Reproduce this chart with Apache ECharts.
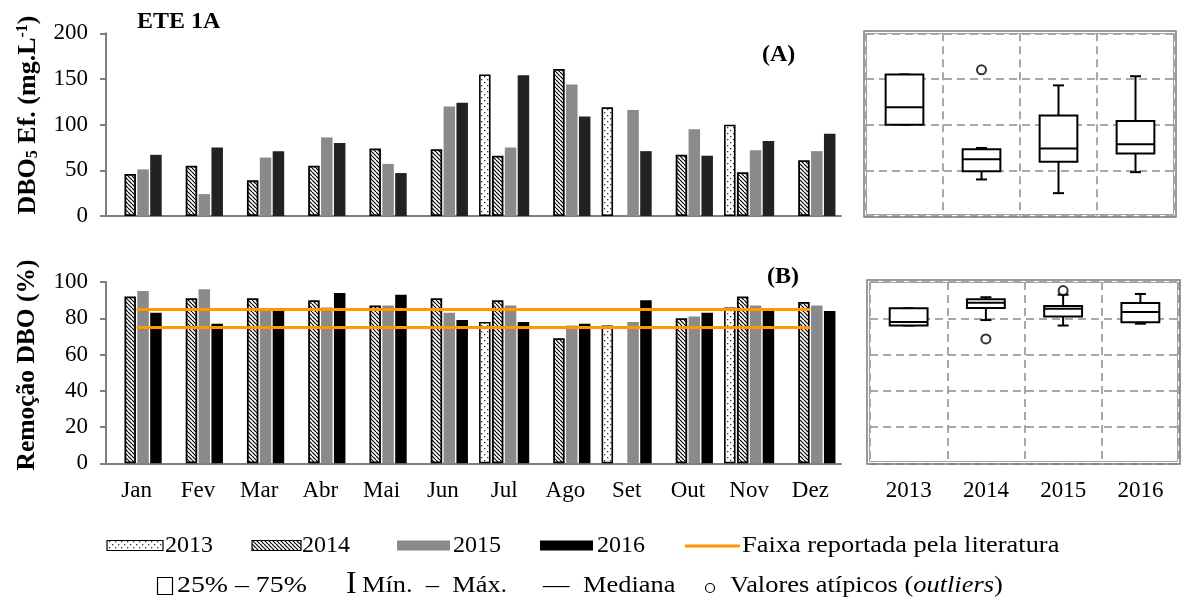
<!DOCTYPE html>
<html>
<head>
<meta charset="utf-8">
<script src="https://cdn.jsdelivr.net/npm/echarts@6/dist/echarts.min.js"></script>
<style>
  html, body { margin: 0; padding: 0; background: #fff; }
  #chart { width: 1181px; height: 601px; }
</style>
</head>
<body>
<div id="chart"></div>
<script>
// Months and years
const months = ['Jan', 'Fev', 'Mar', 'Abr', 'Mai', 'Jun', 'Jul', 'Ago', 'Set', 'Out', 'Nov', 'Dez'];
const years = ['2013', '2014', '2015', '2016'];

// (A) DBO5 efluente, mg/L
const dbo2013 = [null, null, null, null, null, null, 155, null, 119, null, 100, null];
const dbo2014 = [46, 55, 39, 55, 74, 73, 66, 161, null, 67, 48, 61];
const dbo2015 = [51, 24, 64, 86, 57, 120, 75, 144, 116, 95, 72, 71];
const dbo2016 = [67, 75, 71, 80, 47, 124, 154, 109, 71, 66, 82, 90];

// (B) Remoção de DBO, %
const rem2013 = [null, null, null, null, null, null, 78, null, 76, null, 86, null];
const rem2014 = [92, 91, 91, 90, 87, 91, 90, 69, null, 80, 92, 89];
const rem2015 = [95, 96, 85, 86, 87, 83, 87, 76, 78, 81, 87, 87];
const rem2016 = [83, 77, 84, 94, 93, 79, 78, 77, 90, 83, 85, 84];

// Faixa de remoção reportada pela literatura (%)
const faixaLiteratura = [75, 85];

// Box plots per year: [min, Q1, mediana, Q3, max]
const boxDbo2013 = [100, 100, 119, 155, 155];
const boxDbo2014 = [40, 49, 62, 73, 74.5];
const boxDbo2015 = [25, 59.5, 74, 110, 143];
const boxDbo2016 = [48, 68.5, 78.5, 104, 153];
const outDbo = [[1, 160]];

const boxRem2013 = [76, 76, 78, 85.5, 85.5];
const boxRem2014 = [79, 85.7, 88.6, 90.5, 91.6];
const boxRem2015 = [76, 81, 85.3, 86.8, 93];
const boxRem2016 = [77, 77.8, 83.4, 88.4, 93.4];
const outRem = [[1, 68.6], [2, 95.3]];

// Axis ticks
const dboAxis = { min: 0, max: 200, interval: 50 };
const remAxis = { min: 0, max: 100, interval: 20 };

// Fill patterns for the 2013 (dots) and 2014 (hatch) bars
function makeDots() {
  const c = document.createElement('canvas');
  c.width = 6; c.height = 6;
  const g = c.getContext('2d');
  g.fillStyle = '#fff'; g.fillRect(0, 0, 6, 6);
  g.fillStyle = '#333';
  g.fillRect(1, 1, 1.3, 1.3);
  g.fillRect(4, 4, 1.3, 1.3);
  return c;
}
function makeHatch() {
  const s = 4;
  const c = document.createElement('canvas');
  c.width = s; c.height = s;
  const g = c.getContext('2d');
  g.fillStyle = '#fff'; g.fillRect(0, 0, s, s);
  g.strokeStyle = '#000'; g.lineWidth = 1.2;
  g.beginPath();
  for (const k of [-s, 0, s]) { g.moveTo(k, 0); g.lineTo(k + s, s); }
  g.stroke();
  return c;
}
const dotFill = { image: makeDots(), repeat: 'repeat' };
const hatchFill = { image: makeHatch(), repeat: 'repeat' };

const GRAY = '#8a8a8a';
const FONT = 'Liberation Serif';
const AXIS_GRAY = '#7f7f7f';
const LEG_FONT = '24px "Liberation Serif"';
const LEG_SX = 1.1;

const chart = echarts.init(document.getElementById('chart'), null, { renderer: 'canvas' });

function barSeries(name, data, grid, style) {
  return Object.assign({
    name: name, type: 'bar', data: data,
    xAxisIndex: grid, yAxisIndex: grid,
    barWidth: 11.5, barGap: '12%',
    silent: true
  }, style);
}
const s13 = { itemStyle: { color: dotFill, borderColor: '#000', borderWidth: 1.6 } };
const s14 = { itemStyle: { color: hatchFill, borderColor: '#000', borderWidth: 1.8 } };
const s15 = { itemStyle: { color: GRAY } };

function boxItem(i, b) { return [i].concat(b); }

function renderBox(params, api) {
  const x = api.value(0);
  const pMin = api.coord([x, api.value(1)]);
  const pQ1 = api.coord([x, api.value(2)]);
  const pMed = api.coord([x, api.value(3)]);
  const pQ3 = api.coord([x, api.value(4)]);
  const pMax = api.coord([x, api.value(5)]);
  const band = api.size([1, 0])[0];
  const bw = band * 0.49;
  const cw = 11;
  const cx = pMed[0];
  const st = { stroke: '#000', lineWidth: 2, fill: null };
  return {
    type: 'group',
    children: [
      { type: 'line', shape: { x1: cx, y1: pQ3[1], x2: cx, y2: pMax[1] }, style: st },
      { type: 'line', shape: { x1: cx - cw / 2, y1: pMax[1], x2: cx + cw / 2, y2: pMax[1] }, style: st },
      { type: 'line', shape: { x1: cx, y1: pQ1[1], x2: cx, y2: pMin[1] }, style: st },
      { type: 'line', shape: { x1: cx - cw / 2, y1: pMin[1], x2: cx + cw / 2, y2: pMin[1] }, style: st },
      { type: 'rect', shape: { x: cx - bw / 2, y: pQ3[1], width: bw, height: pQ1[1] - pQ3[1] },
        style: { stroke: '#000', lineWidth: 2, fill: '#fff' } },
      { type: 'line', shape: { x1: cx - bw / 2, y1: pMed[1], x2: cx + bw / 2, y2: pMed[1] }, style: st }
    ]
  };
}

const dashed = { show: true, lineStyle: { color: '#8c8c8c', width: 1.5, type: [8, 5] } };
const tickLabel = { color: '#000', fontFamily: FONT, fontSize: 23 };

function legText(x, y, text, extra, sx) {
  return { type: 'text', x: x, y: y, scaleX: sx || LEG_SX,
    style: Object.assign({ text: text, font: LEG_FONT, fill: '#000', verticalAlign: 'middle' }, extra || {}) };
}

const option = {
  animation: false,
  backgroundColor: '#fff',
  grid: [
    { left: 106, top: 33.3, width: 735, height: 182.7 },
    { left: 106, top: 282, width: 735, height: 181.3 },
    { left: 866, top: 33.3, width: 308, height: 182.7 },
    { left: 870, top: 282, width: 309, height: 181.3 }
  ],
  xAxis: [
    { type: 'category', data: months, gridIndex: 0,
      axisLine: { lineStyle: { color: AXIS_GRAY, width: 2 } }, axisTick: { show: false },
      axisLabel: { show: false } },
    { type: 'category', data: months, gridIndex: 1,
      axisLine: { lineStyle: { color: AXIS_GRAY, width: 2 } }, axisTick: { show: false },
      axisLabel: Object.assign({ margin: 16 }, tickLabel) },
    { type: 'category', data: years, gridIndex: 2,
      axisLine: { show: false }, axisTick: { show: false }, axisLabel: { show: false },
      splitLine: dashed },
    { type: 'category', data: years, gridIndex: 3,
      axisLine: { show: false }, axisTick: { show: false },
      axisLabel: Object.assign({ margin: 16 }, tickLabel),
      splitLine: dashed }
  ],
  yAxis: [
    Object.assign({ type: 'value', gridIndex: 0,
      axisLine: { show: true, lineStyle: { color: AXIS_GRAY, width: 2 } },
      axisTick: { show: true, length: 6, lineStyle: { color: AXIS_GRAY, width: 2 } },
      splitLine: { show: false },
      axisLabel: Object.assign({ margin: 18 }, tickLabel) }, dboAxis),
    Object.assign({ type: 'value', gridIndex: 1,
      axisLine: { show: true, lineStyle: { color: AXIS_GRAY, width: 2 } },
      axisTick: { show: true, length: 6, lineStyle: { color: AXIS_GRAY, width: 2 } },
      splitLine: { show: false },
      axisLabel: Object.assign({ margin: 18 }, tickLabel) }, remAxis),
    Object.assign({ type: 'value', gridIndex: 2,
      axisLine: { show: false }, axisTick: { show: false }, axisLabel: { show: false },
      splitLine: dashed }, dboAxis),
    Object.assign({ type: 'value', gridIndex: 3,
      axisLine: { show: false }, axisTick: { show: false }, axisLabel: { show: false },
      splitLine: dashed }, remAxis)
  ],
  series: [
    barSeries('2013', dbo2013, 0, s13),
    barSeries('2014', dbo2014, 0, s14),
    barSeries('2015', dbo2015, 0, s15),
    barSeries('2016', dbo2016, 0, { itemStyle: { color: '#222' } }),

    barSeries('2013', rem2013, 1, s13),
    barSeries('2014', rem2014, 1, s14),
    barSeries('2015', rem2015, 1, s15),
    barSeries('2016', rem2016, 1, { itemStyle: { color: '#000' } }),

    { type: 'line', xAxisIndex: 1, yAxisIndex: 1, data: [], silent: true, z: 5,
      markLine: {
        silent: true, symbol: 'none', label: { show: false },
        lineStyle: { color: '#ff9900', width: 3, type: 'solid' },
        data: faixaLiteratura.map(v => [
          { coord: [months[0], v] },
          { coord: [months[months.length - 1], v] }
        ])
      } },

    { type: 'custom', xAxisIndex: 2, yAxisIndex: 2, renderItem: renderBox, silent: true,
      encode: { x: 0, y: [1, 2, 3, 4, 5] },
      data: [boxItem(0, boxDbo2013), boxItem(1, boxDbo2014), boxItem(2, boxDbo2015), boxItem(3, boxDbo2016)] },
    { type: 'scatter', xAxisIndex: 2, yAxisIndex: 2, data: outDbo, symbol: 'circle', symbolSize: 9, silent: true,
      itemStyle: { color: '#fff', borderColor: '#000', borderWidth: 2 } },

    { type: 'custom', xAxisIndex: 3, yAxisIndex: 3, renderItem: renderBox, silent: true,
      encode: { x: 0, y: [1, 2, 3, 4, 5] },
      data: [boxItem(0, boxRem2013), boxItem(1, boxRem2014), boxItem(2, boxRem2015), boxItem(3, boxRem2016)] },
    { type: 'scatter', xAxisIndex: 3, yAxisIndex: 3, data: outRem, symbol: 'circle', symbolSize: 9, silent: true,
      itemStyle: { color: '#fff', borderColor: '#000', borderWidth: 2 } }
  ],
  graphic: [
    // axis titles
    { type: 'text', x: 28, y: 115, rotation: Math.PI / 2,
      style: { text: 'DBO{sub|5} Ef. (mg.L{sup|-1})', font: 'bold 26px "Liberation Serif"', fill: '#000',
        align: 'center', verticalAlign: 'middle',
        rich: {
          sub: { fontFamily: FONT, fontSize: 16, fontWeight: 'bold', fill: '#000', verticalAlign: 'bottom' },
          sup: { fontFamily: FONT, fontSize: 16, fontWeight: 'bold', fill: '#000', verticalAlign: 'top' }
        } } },
    { type: 'text', x: 27, y: 365, rotation: Math.PI / 2,
      style: { text: 'Remoção DBO (%)', font: 'bold 25.5px "Liberation Serif"', fill: '#000',
        align: 'center', verticalAlign: 'middle' } },

    // panel titles
    { type: 'text', left: 137, top: 10, style: { text: 'ETE 1A', font: 'bold 24px "Liberation Serif"', fill: '#000' } },
    { type: 'text', left: 762, top: 43, style: { text: '(A)', font: 'bold 24px "Liberation Serif"', fill: '#000' } },
    { type: 'text', left: 767, top: 265, style: { text: '(B)', font: 'bold 24px "Liberation Serif"', fill: '#000' } },

    // box panel frames
    { type: 'rect', shape: { x: 864, y: 31, width: 312, height: 186 }, style: { fill: null, stroke: '#7a7a7a', lineWidth: 1.5 }, z: 10 },
    { type: 'rect', shape: { x: 866.5, y: 33.5, width: 307, height: 181 }, style: { fill: null, stroke: '#a0a0a0', lineWidth: 1 }, z: 10 },
    { type: 'rect', shape: { x: 867, y: 280, width: 313, height: 184 }, style: { fill: null, stroke: '#7a7a7a', lineWidth: 1.5 }, z: 10 },
    { type: 'rect', shape: { x: 869.5, y: 282.5, width: 308, height: 179 }, style: { fill: null, stroke: '#a0a0a0', lineWidth: 1 }, z: 10 },

    // legend, first row
    { type: 'rect', shape: { x: 107, y: 540.5, width: 56, height: 10 }, style: { fill: dotFill, stroke: '#000', lineWidth: 1.2 } },
    legText(165, 546, '2013', null, 1),
    { type: 'rect', shape: { x: 252, y: 540.5, width: 49, height: 10 }, style: { fill: hatchFill, stroke: '#000', lineWidth: 1.2 } },
    legText(302, 546, '2014', null, 1),
    { type: 'rect', shape: { x: 397, y: 540.5, width: 53, height: 10 }, style: { fill: GRAY } },
    legText(453, 546, '2015', null, 1),
    { type: 'rect', shape: { x: 540, y: 540.5, width: 53, height: 10 }, style: { fill: '#000' } },
    legText(597, 546, '2016', null, 1),
    { type: 'line', shape: { x1: 685, y1: 546, x2: 740, y2: 546 }, style: { stroke: '#ff9900', lineWidth: 3 } },
    legText(742, 546, 'Faixa reportada pela literatura'),

    // legend, second row
    { type: 'rect', shape: { x: 157.5, y: 577.5, width: 15, height: 17 }, style: { fill: null, stroke: '#000', lineWidth: 1.2 } },
    legText(177, 586, '25% – 75%', null, 1.16),
    { type: 'text', x: 346, y: 585, style: { text: 'I', font: '32px "Liberation Serif"', fill: '#000', verticalAlign: 'middle' } },
    legText(362, 586, 'Mín.  –  Máx.'),
    legText(543, 586, '—'),
    legText(583, 586, 'Mediana'),
    { type: 'circle', shape: { cx: 710, cy: 588, r: 4.5 }, style: { fill: null, stroke: '#000', lineWidth: 1.2 } },
    legText(730, 586, 'Valores atípicos ({i|outliers})', {
      rich: { i: { fontFamily: FONT, fontSize: 24, fontStyle: 'italic', fill: '#000' } } })
  ]
};

chart.setOption(option);
</script>
</body>
</html>
